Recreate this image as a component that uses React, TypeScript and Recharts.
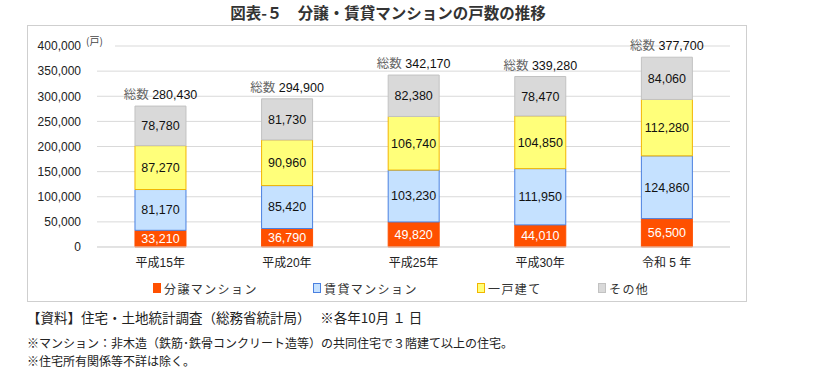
import { Bar, BarChart, CartesianGrid, LabelList, XAxis, YAxis } from "recharts";

const categories = ["平成15年", "平成20年", "平成25年", "平成30年", "令和 5 年"];
const bunjo = [33210, 36790, 49820, 44010, 56500];
const chintai = [81170, 85420, 103230, 111950, 124860];
const ikko = [87270, 90960, 106740, 104850, 112280];
const other = [78780, 81730, 82380, 78470, 84060];
const totals = [280430, 294900, 342170, 339280, 377700];
const yTicks = [0, 50000, 100000, 150000, 200000, 250000, 300000, 350000, 400000];

const seriesNames = ["分譲マンション", "賃貸マンション", "一戸建て", "その他"];

const FONT = "'Liberation Sans', 'Noto Sans CJK JP', sans-serif";
const JP = "'Noto Sans CJK JP', sans-serif";

const ORANGE = "#FF5000";
const BLUE_FILL = "#C5E1FF";
const BLUE_EDGE = "#4A80E0";
const YELLOW_FILL = "#FFFF7A";
const YELLOW_EDGE = "#F2B600";
const GRAY_FILL = "#D9D9D9";
const GRAY_EDGE = "#C2C2C2";
const GRID = "#D9D9D9";

const legendItems = [
  { fill: ORANGE, edge: ORANGE, left: 153 },
  { fill: BLUE_FILL, edge: BLUE_EDGE, left: 313 },
  { fill: YELLOW_FILL, edge: YELLOW_EDGE, left: 477 },
  { fill: GRAY_FILL, edge: GRAY_EDGE, left: 598 },
];

const data = categories.map((name, i) => ({
  name,
  bunjo: bunjo[i],
  chintai: chintai[i],
  ikko: ikko[i],
  other: other[i],
  total: totals[i],
}));

const fmt = (v: any) => (typeof v === "number" ? v.toLocaleString("en-US") : String(v ?? ""));

// "総数 xxx,xxx" above each stack
function TotalLabel(props: any) {
  const x = Number(props.x);
  const y = Number(props.y);
  const w = Number(props.width);
  return (
    <text
      x={x + w / 2}
      y={y - 11}
      textAnchor="middle"
      dominantBaseline="central"
      fontSize={12.5}
      fontFamily={FONT}
    >
      <tspan fill="#666">総数 </tspan>
      <tspan fill="#111">{fmt(props.value)}</tspan>
    </text>
  );
}

export default function App() {
  return (
    <div
      style={{
        position: "absolute",
        left: 0,
        top: 0,
        width: 822,
        height: 371,
        background: "#fff",
        fontFamily: JP,
        color: "#222",
      }}
    >
      <div
        style={{
          position: "absolute",
          left: 0,
          width: 776,
          top: 4,
          textAlign: "center",
          fontSize: 15.5,
          fontWeight: 700,
          lineHeight: "16px",
          color: "#333",
        }}
      >
        図表-５　分譲・賃貸マンションの戸数の推移
      </div>

      {/* chart frame */}
      <div
        style={{
          position: "absolute",
          left: 27,
          top: 25,
          width: 718,
          height: 275,
          border: "1px solid #CFCFCF",
        }}
      />

      <div style={{ position: "absolute", left: 0, top: 0 }}>
        <BarChart
          width={760}
          height={300}
          data={data}
          margin={{ top: 46, right: 30, bottom: 23, left: 27 }}
          barCategoryGap="30%"
        >
          <CartesianGrid stroke={GRID} vertical={false} />
          <XAxis
            dataKey="name"
            height={30}
            axisLine={{ stroke: GRID }}
            tickLine={false}
            tickMargin={5}
            tick={{ fontSize: 12, fill: "#222", fontFamily: FONT }}
            interval={0}
          />
          <YAxis
            width={70}
            domain={[0, 400000]}
            ticks={yTicks}
            axisLine={false}
            tickLine={false}
            tickMargin={10}
            tickFormatter={fmt}
            tick={{ fontSize: 12, fill: "#222", fontFamily: FONT }}
          />
          <Bar dataKey="bunjo" stackId="a" fill={ORANGE} stroke={ORANGE} isAnimationActive={false}>
            <LabelList dataKey="bunjo" position="center" formatter={fmt} fill="#fff" fontSize={12.5} fontFamily={FONT} />
          </Bar>
          <Bar dataKey="chintai" stackId="a" fill={BLUE_FILL} stroke={BLUE_EDGE} isAnimationActive={false}>
            <LabelList dataKey="chintai" position="center" formatter={fmt} fill="#111" fontSize={12.5} fontFamily={FONT} />
          </Bar>
          <Bar dataKey="ikko" stackId="a" fill={YELLOW_FILL} stroke={YELLOW_EDGE} isAnimationActive={false}>
            <LabelList dataKey="ikko" position="center" formatter={fmt} fill="#111" fontSize={12.5} fontFamily={FONT} />
          </Bar>
          <Bar dataKey="other" stackId="a" fill={GRAY_FILL} stroke={GRAY_EDGE} isAnimationActive={false}>
            <LabelList dataKey="other" position="center" formatter={fmt} fill="#111" fontSize={12.5} fontFamily={FONT} />
            <LabelList dataKey="total" content={TotalLabel} />
          </Bar>
        </BarChart>
      </div>

      {/* unit label, hides the start of the top gridline */}
      <div
        style={{
          position: "absolute",
          left: 86,
          top: 34,
          width: 29,
          height: 14,
          background: "#fff",
          fontSize: 10,
          lineHeight: "14px",
          color: "#444",
        }}
      >
        (戸)
      </div>

      {/* legend */}
      {legendItems.map((it, i) => (
        <div
          key={seriesNames[i]}
          style={{
            position: "absolute",
            left: it.left,
            top: 280,
            height: 16,
            display: "flex",
            alignItems: "center",
            fontSize: 12,
            letterSpacing: 1.4,
            color: "#333",
            whiteSpace: "nowrap",
          }}
        >
          <span
            style={{
              display: "inline-block",
              width: 6,
              height: 8,
              background: it.fill,
              border: `1px solid ${it.edge}`,
              marginRight: 3,
            }}
          />
          {seriesNames[i]}
        </div>
      ))}

      {/* notes */}
      <div style={{ position: "absolute", left: 27, top: 308, fontSize: 13.5, lineHeight: "18px", whiteSpace: "nowrap", color: "#222" }}>
        【資料】住宅・土地統計調査（総務省統計局）　 ※各年10月 １ 日
      </div>
      <div style={{ position: "absolute", left: 27, top: 334, fontSize: 12, lineHeight: "17px", whiteSpace: "nowrap", color: "#222" }}>
        ※マンション：非木造（鉄筋･鉄骨コンクリート造等）の共同住宅で３階建て以上の住宅。
      </div>
      <div style={{ position: "absolute", left: 27, top: 352, fontSize: 12, lineHeight: "17px", whiteSpace: "nowrap", color: "#222" }}>
        ※住宅所有関係等不詳は除く。
      </div>
    </div>
  );
}
